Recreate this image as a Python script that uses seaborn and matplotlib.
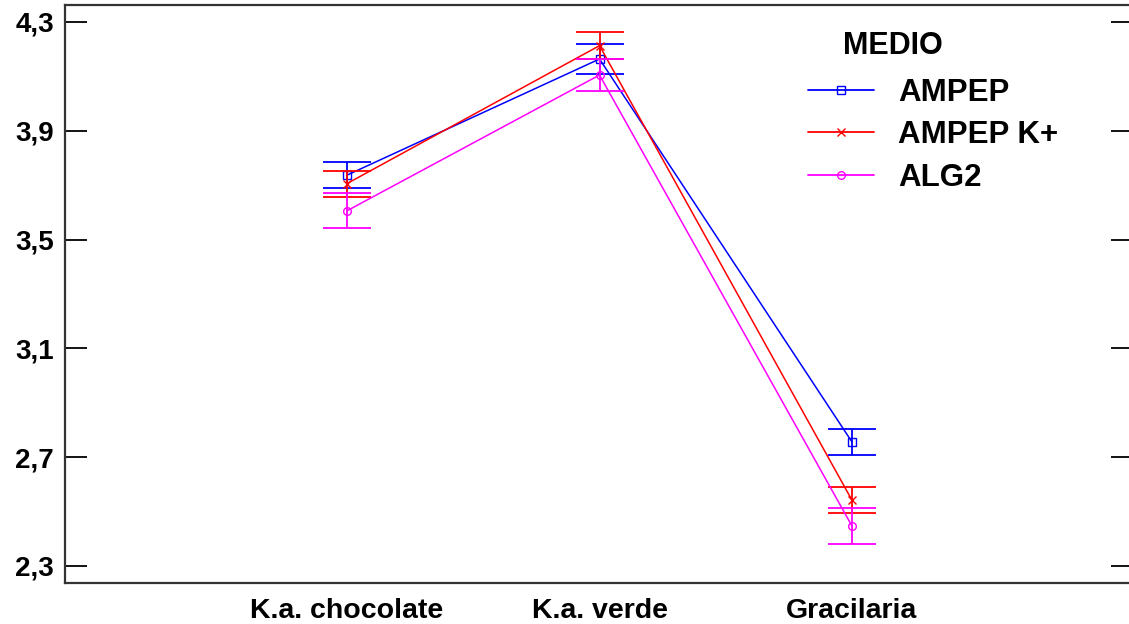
import matplotlib
matplotlib.use("Agg")
import matplotlib.pyplot as plt
import seaborn as sns
import pandas as pd
from matplotlib.lines import Line2D

categories = ["K.a. chocolate", "K.a. verde", "Gracilaria"]
series_names = ["AMPEP", "AMPEP K+", "ALG2"]
ampep_mean = [3.737, 4.164, 2.756]
ampep_err = [0.048, 0.055, 0.048]
ampepk_mean = [3.706, 4.213, 2.542]
ampepk_err = [0.048, 0.049, 0.048]
alg2_mean = [3.606, 4.105, 2.447]
alg2_err = [0.065, 0.059, 0.065]
y_ticks = [2.3, 2.7, 3.1, 3.5, 3.9, 4.3]
y_tick_labels = ["2,3", "2,7", "3,1", "3,5", "3,9", "4,3"]

colors = ["#0000FF", "#FF0000", "#FF00FF"]
markers = ["s", "x", "o"]
means = [ampep_mean, ampepk_mean, alg2_mean]
errs = [ampep_err, ampepk_err, alg2_err]

sns.set_style("white")
plt.rcParams["font.family"] = ["Liberation Sans", "DejaVu Sans"]
plt.rcParams["font.weight"] = "bold"
plt.rcParams["text.color"] = "black"
plt.rcParams["xtick.color"] = "black"
plt.rcParams["ytick.color"] = "black"

fig = plt.figure(figsize=(11.29, 6.24), dpi=100)
ax = fig.add_axes([65 / 1129, 1 - 583 / 624, (1133 - 65) / 1129, (583 - 5) / 624])

xpos = list(range(len(categories)))
handles = []
for name, m, e, c, mk in zip(series_names, means, errs, colors, markers):
    df = pd.DataFrame({"x": xpos, "y": m})
    sns.lineplot(data=df, x="x", y="y", ax=ax, color=c, linewidth=1.1,
                 marker=mk, markersize=5.5,
                 markerfacecolor="none" if mk != "x" else c,
                 markeredgecolor=c, markeredgewidth=1.0, estimator=None,
                 legend=False)
    ax.errorbar(xpos, m, yerr=e, fmt="none", ecolor=c, elinewidth=1.3,
                capsize=17.6, capthick=1.3)
    handles.append(Line2D([], [], color=c, linewidth=1.3, marker=mk,
                          markersize=5.5, markerfacecolor="none" if mk != "x" else c,
                          markeredgecolor=c, markeredgewidth=1.0, label=name))

ax.set_xlim(-1.117, 3.113)
ax.set_ylim(2.2375, 4.3625)
ax.set_xticks(xpos)
ax.set_xticklabels(categories, fontsize=20.5, fontweight="bold", color="black")
ax.set_yticks(y_ticks)
ax.set_yticklabels(y_tick_labels, fontsize=20, fontweight="bold", color="black")
ax.set_xlabel("")
ax.set_ylabel("")
ax.tick_params(axis="x", length=0, pad=11)
ax.tick_params(axis="y", direction="in", length=15.8, width=1.3, color="black",
               right=True, left=True, pad=8)
for s in ax.spines.values():
    s.set_color("#333333")
    s.set_linewidth(1.6)

leg = ax.legend(handles=handles, loc="upper left",
                bbox_to_anchor=(786 / 1129, 1 - 56 / 624), bbox_transform=fig.transFigure,
                frameon=False, prop={"family": "Liberation Sans", "weight": "bold", "size": 22.5},
                handlelength=2.1, handletextpad=0.8, labelspacing=0.4, borderpad=0.2)
for t in leg.get_texts():
    t.set_color("black")
fig.text(843 / 1129, 1 - 46 / 624, "MEDIO", fontsize=22, fontweight="bold",
         ha="left", va="center", color="black")

fig.savefig("out.png", dpi=100)
